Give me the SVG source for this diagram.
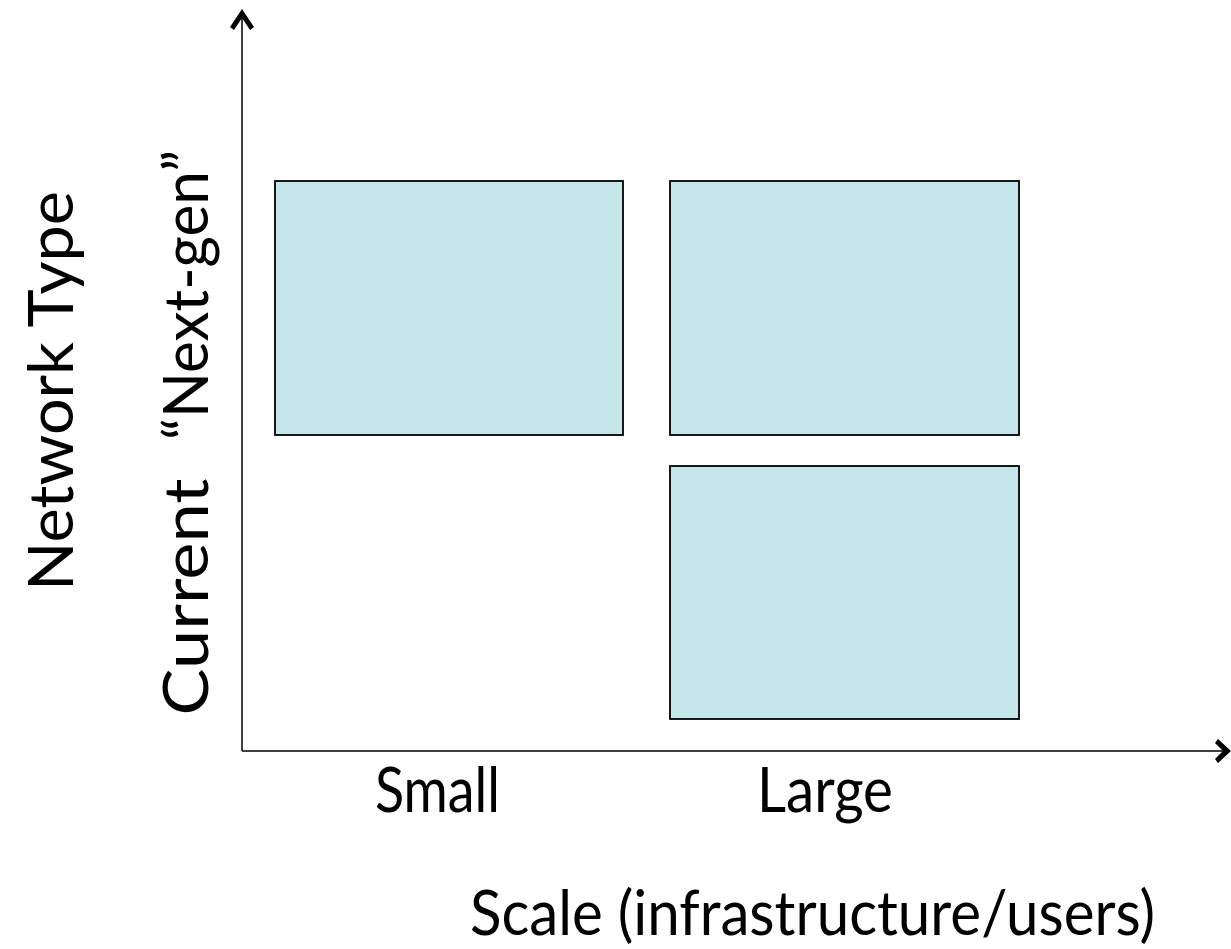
<svg xmlns="http://www.w3.org/2000/svg" width="1231" height="949" viewBox="0 0 1231 949">
<style>
.box{fill:#c5e6e8;stroke:#000;stroke-width:1.8}
.axis{stroke:#000;stroke-width:1.5;fill:none}
.head{fill:#000;stroke:none}
.t{font-family:Lato,"Open Sans",sans-serif;font-size:61px;fill:#000}
</style>
<rect width="1231" height="949" fill="#fff"/>
<g id="connectors">
<line class="axis" x1="242" y1="751" x2="242" y2="14"/>
<polygon class="head" points="242,9 254,27 250,30 242,18 234,30 230,27"/>
<line class="axis" x1="242" y1="751" x2="1226" y2="751"/>
<polygon class="head" points="1231,751 1218,763 1215,759 1223,751 1215,743 1218,739"/>
</g>
<g id="box-small-next"><rect class="box" x="275" y="181" width="348" height="254"/></g>
<g id="box-large-next"><rect class="box" x="670" y="181" width="349" height="254"/></g>
<g id="box-large-current"><rect class="box" x="670" y="466" width="349" height="253"/></g>
<g id="labels">
<text class="t" transform="translate(73,391) rotate(-90)" text-anchor="middle" textLength="400" lengthAdjust="spacingAndGlyphs">Network Type</text>
<text class="t" transform="translate(208,295) rotate(-90)" text-anchor="middle" textLength="290" lengthAdjust="spacingAndGlyphs">“Next-gen”</text>
<text class="t" transform="translate(208,597) rotate(-90)" text-anchor="middle" textLength="237" lengthAdjust="spacingAndGlyphs">Current</text>
<text class="t" x="375" y="812" textLength="125" lengthAdjust="spacingAndGlyphs">Small</text>
<text class="t" x="757" y="812" textLength="136" lengthAdjust="spacingAndGlyphs">Large</text>
<text class="t" x="470" y="935" textLength="685" lengthAdjust="spacingAndGlyphs">Scale (infrastructure/users)</text>
</g>
</svg>
